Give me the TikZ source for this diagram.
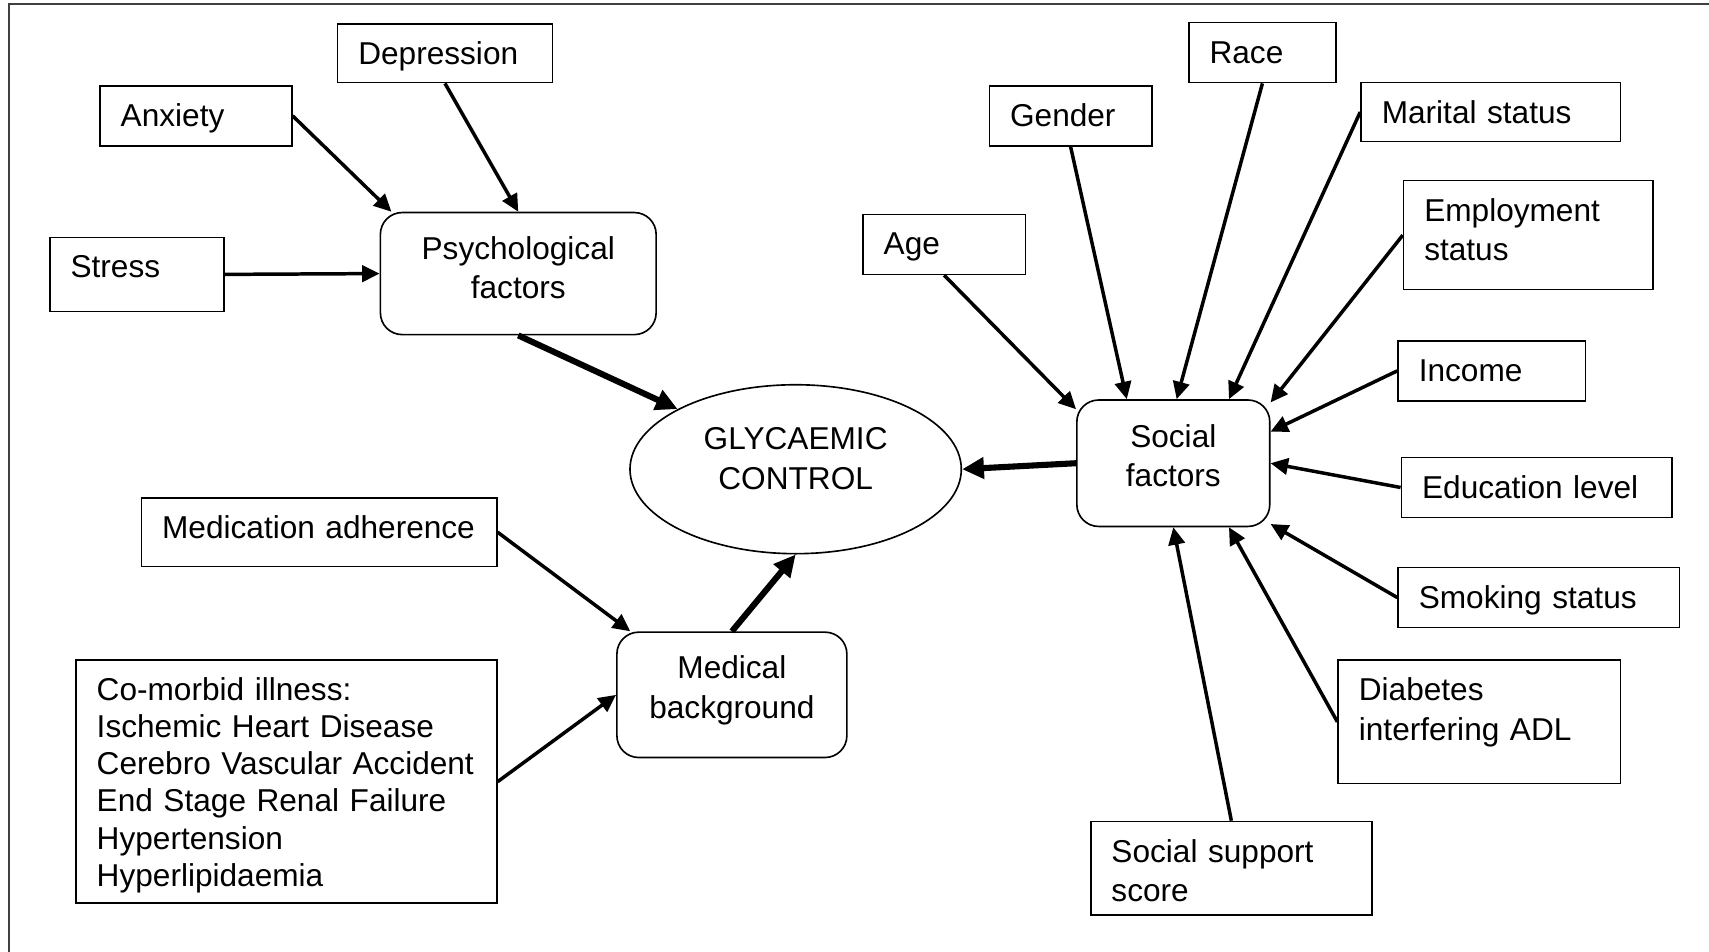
\documentclass[tikz,border=0pt]{standalone}
\usepackage{fontspec}
\setmainfont{Liberation Sans}
\usetikzlibrary{arrows.meta,shapes.geometric}
\begin{document}
\begin{tikzpicture}[x=0.5pt,y=-0.5pt,
    caja/.style={draw, line width=0.75pt, anchor=north west, align=left,
      inner xsep=9.5pt, inner ysep=0pt, text height=18.6pt,
      font=\fontsize{14.5}{18}\selectfont},
    grupo/.style={draw, line width=0.75pt, rounded corners=10pt, align=center,
      inner sep=0pt, font=\fontsize{14.5}{18}\selectfont},
    flecha/.style={line width=1.6pt, -{Triangle[length=8pt,width=7.5pt]}},
    gruesa/.style={line width=2.8pt, -{Triangle[length=10pt,width=9.5pt]}}]
    \useasboundingbox (0,0) rectangle (1568,873);
    \draw[line width=0.9pt, black!75] (8,873) -- (8,4) -- (1568,4); % marco
    % centro
    \node[ellipse, draw, line width=0.75pt, minimum width=152pt, minimum height=77.5pt,
      inner sep=0pt, align=center, text height=28.5pt, text depth=10.2pt,
      font=\fontsize{14.5}{18}\selectfont] (gc) at (730,430.5) {GLYCAEMIC\\CONTROL};
    \node[grupo, minimum width=126.5pt, text height=39.4pt, text depth=16.6pt] (psy) at (475.5,251) {Psychological\\factors};
    \node[grupo, minimum width=105.5pt, text height=39.4pt, text depth=18.1pt] (med) at (671.5,637.5) {Medical\\background};
    \node[grupo, minimum width=88.5pt, text height=39.9pt, text depth=18.1pt] (soc) at (1076.5,425) {Social\\factors};
    % factores psicologicos
    \node[caja, text width=79.5pt, text depth=8.4pt] (dep) at (309,21) {Depression};
    \node[caja, text width=69pt, text depth=8.9pt] (anx) at (91,78) {Anxiety};
    \node[caja, text width=61pt, text depth=15.4pt] (stre) at (45,217) {Stress};
    % antecedentes medicos
    \node[caja, text width=144pt, text depth=12.9pt] (mad) at (129,456) {Medication adherence};
    \node[caja, text width=174pt, text depth=92.9pt, font=\fontsize{14.5}{17}\selectfont] (com) at (69,605)
      {Co-morbid illness:\\Ischemic Heart Disease\\Cerebro Vascular Accident\\End Stage Renal Failure\\Hypertension\\Hyperlipidaemia};
    % factores sociales
    \node[caja, text width=55.5pt, text depth=8.9pt] (age) at (791,196) {Age};
    \node[caja, text width=55.5pt, text depth=8.9pt] (gen) at (907,78) {Gender};
    \node[caja, text width=48.5pt, text depth=8.9pt] (race) at (1090,20) {Race};
    \node[caja, text width=100pt, text depth=8.4pt] (mar) at (1248,75) {Marital status};
    \node[caja, text width=95.5pt, text depth=31.4pt] (emp) at (1287,165) {Employment\\status};
    \node[caja, text width=67pt, text depth=8.9pt] (inc) at (1282,312) {Income};
    \node[caja, text width=105pt, text depth=8.9pt] (edu) at (1285,419) {Education level};
    \node[caja, text width=110pt, text depth=8.9pt] (smo) at (1282,520) {Smoking status};
    \node[caja, text width=110.5pt, text depth=37.9pt] (dia) at (1227,605) {Diabetes\\interfering ADL};
    \node[caja, text width=110pt, text depth=24.4pt] (sss) at (1000,753) {Social support\\score};
    % flechas
    \draw[flecha] (anx.east) -- (psy.154);
    \draw[flecha] (dep.south) -- (psy.north);
    \draw[flecha] (stre.east) -- (psy.west);
    \draw[flecha] (mad.east) -- (med.148);
    \draw[flecha] (com.east) -- (med.west);
    \draw[flecha] (age.south) -- (soc.151);
    \draw[flecha] (gen.south) -- (soc.126);
    \draw[flecha] (race.south) -- (soc.87);
    \draw[flecha] (mar.west) -- (soc.49);
    \draw[flecha] (emp.west) -- (soc.32);
    \draw[flecha] (inc.west) -- (soc.18);
    \draw[flecha] (edu.west) -- (soc.east);
    \draw[flecha] (smo.west) -- (soc.-32);
    \draw[flecha] (dia.west) -- (soc.-49);
    \draw[flecha] (sss.north) -- (soc.south);
    \draw[gruesa] (psy.south) -- (gc.153);
    \draw[gruesa] (soc.west) -- (gc.east);
    \draw[gruesa] (med.north) -- (gc.south);
\end{tikzpicture}
\end{document}
